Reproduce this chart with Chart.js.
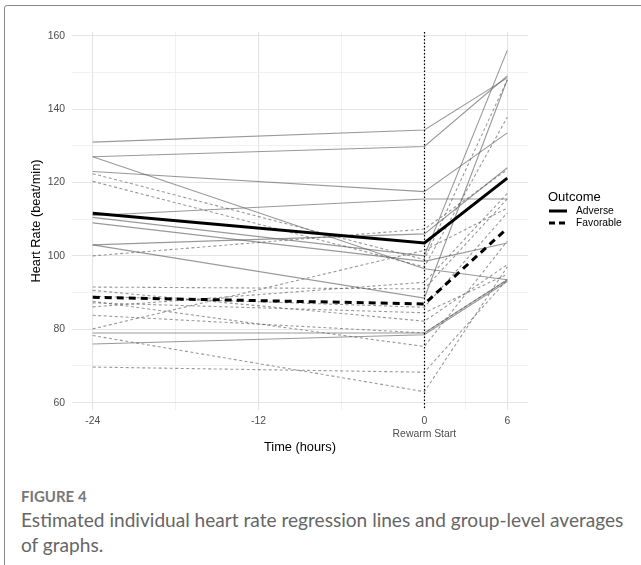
<!DOCTYPE html>
<html>
<head>
<meta charset="utf-8">
<script src="https://cdn.jsdelivr.net/npm/chart.js@4"></script>
<style>
  body { margin: 0; background: #fff; width: 641px; height: 565px; overflow: hidden; position: relative; font-family: "Liberation Sans", Arial, sans-serif; }
  #frame { position: absolute; left: 4px; top: 5px; width: 700px; height: 700px; border: 1px solid #8a8a8a; border-radius: 3px; }
  #wrap { position: absolute; left: 0; top: 0; width: 641px; height: 470px; }
  .leg { position: absolute; white-space: nowrap; line-height: 1; }
  .cap { position: absolute; left: 21px; white-space: nowrap; font-family: Lato, "Open Sans", sans-serif; color: #666; }
</style>
</head>
<body>
<div id="frame"></div>
<div id="wrap"><canvas id="chart"></canvas></div>

<div class="leg" style="left:548px; top:190px; font-size:13px; color:#000;">Outcome</div>
<svg class="leg" style="left:548px; top:205px;" width="22" height="24">
  <line x1="1" y1="6" x2="19" y2="6" stroke="#000" stroke-width="3"/>
  <line x1="1" y1="18" x2="19" y2="18" stroke="#000" stroke-width="3" stroke-dasharray="6 4"/>
</svg>
<div class="leg" style="left:576px; top:206px; font-size:10.3px; color:#000;">Adverse</div>
<div class="leg" style="left:576px; top:218px; font-size:10.3px; color:#000;">Favorable</div>

<div class="cap" style="top:487px; font-size:15px; font-weight:bold; color:#777;">FIGURE 4</div>
<div class="cap" style="top:508px; font-size:19.1px;">Estimated individual heart rate regression lines and group-level averages</div>
<div class="cap" style="top:533px; font-size:19.1px;">of graphs.</div>

<script>
// hours relative to rewarm start
var timePoints = [-24, 0, 6];

// individual regression lines, values at -24h, 0h, +6h
var adverseLines = [
  [131, 134.3, 148.5],
  [127, 129.8, 149],
  [127, 96.5, 93.5],
  [123, 117.5, 133.5],
  [111, 115.5, 115.5],
  [110.5, 100, 156],
  [109, 98.5, 103.5],
  [103, 106, 124],
  [103, 88.5, 148],
  [79, 79, 93.5],
  [76, 78.5, 93]
];
var favorableLines = [
  [122.4, 99, 148],
  [120.3, 97, 137.8],
  [100, 107.3, 123.5],
  [91.5, 91, 115.5],
  [90.6, 82.2, 97.6],
  [89, 86, 111.7],
  [87.2, 84.5, 95],
  [86.1, 92.8, 117],
  [83.8, 79, 93.5],
  [80.1, 101.5, 113],
  [78.3, 63, 97],
  [69.7, 68.3, 93.5],
  [87.6, 75.3, 104]
];

// group level averages
var adverseMean = [111.6, 103.5, 121.2];
var favorableMean = [88.7, 86.9, 107.5];

var xTicks = [-24, -18, -12, -6, 0, 3, 6];
var xMajor = [-24, -12, 0, 6];
var xLabels = { '-24': '-24', '-12': '-12', '0': ['0', 'Rewarm Start'], '6': '6' };
var yTicks = [60, 70, 80, 90, 100, 110, 120, 130, 140, 150, 160];

function toPoints(vals) {
  return timePoints.map(function (t, i) { return { x: t, y: vals[i] }; });
}

var datasets = [];

datasets.push({ label: 'Adverse', data: toPoints(adverseMean), borderColor: '#000', borderWidth: 3, order: 0 });
datasets.push({ label: 'Favorable', data: toPoints(favorableMean), borderColor: '#000', borderWidth: 3, borderDash: [7, 5], order: 0 });

for (var i = 0; i < adverseLines.length; i++) {
  datasets.push({ data: toPoints(adverseLines[i]), borderColor: 'rgba(90,90,90,0.62)', borderWidth: 1.1, order: 1 });
}
for (var j = 0; j < favorableLines.length; j++) {
  datasets.push({ data: toPoints(favorableLines[j]), borderColor: 'rgba(90,90,90,0.62)', borderWidth: 1.1, borderDash: [3, 2.5], order: 1 });
}

// dotted line at rewarm start
var rewarmLine = {
  id: 'rewarmLine',
  afterDatasetsDraw: function (chart) {
    var ctx = chart.ctx;
    var a = chart.chartArea;
    var x = Math.round(chart.scales.x.getPixelForValue(0)) + 0.5;
    ctx.save();
    ctx.strokeStyle = '#000';
    ctx.lineWidth = 1.2;
    ctx.setLineDash([1.5, 2]);
    ctx.beginPath();
    ctx.moveTo(x, a.top);
    ctx.lineTo(x, a.bottom);
    ctx.stroke();
    ctx.restore();
  }
};

Chart.defaults.font.family = '"Liberation Sans", Arial, sans-serif';

new Chart(document.getElementById('chart'), {
  type: 'line',
  data: { datasets: datasets },
  options: {
    responsive: true,
    maintainAspectRatio: false,
    animation: false,
    layout: { padding: { left: 25, top: 32, right: 113, bottom: 11 } },
    elements: { point: { radius: 0 }, line: { tension: 0 } },
    plugins: { legend: { display: false }, tooltip: { enabled: false } },
    scales: {
      x: {
        type: 'linear',
        min: -25.5,
        max: 7.5,
        afterBuildTicks: function (s) { s.ticks = xTicks.map(function (v) { return { value: v }; }); },
        afterFit: function (s) { s.height = 49; },
        border: { display: false },
        grid: {
          drawTicks: false,
          color: function (c) { return xMajor.indexOf(c.tick.value) >= 0 ? '#e4e4e4' : '#eeeeee'; },
          lineWidth: function (c) { return xMajor.indexOf(c.tick.value) >= 0 ? 1.1 : 0.8; }
        },
        ticks: {
          autoSkip: false,
          maxRotation: 0,
          padding: 5,
          color: '#4d4d4d',
          font: { size: 10.4 },
          callback: function (v) { return xLabels[v] !== undefined ? xLabels[v] : ''; }
        },
        title: { display: true, text: 'Time (hours)', color: '#000', font: { size: 12.8 }, padding: { top: 4, bottom: 4 } }
      },
      y: {
        min: 58,
        max: 161,
        afterBuildTicks: function (s) { s.ticks = yTicks.map(function (v) { return { value: v }; }); },
        afterFit: function (s) { s.width = 47; },
        border: { display: false },
        grid: {
          drawTicks: false,
          color: function (c) { return c.tick.value % 20 === 0 ? '#e4e4e4' : '#eeeeee'; },
          lineWidth: function (c) { return c.tick.value % 20 === 0 ? 1.1 : 0.8; }
        },
        ticks: {
          padding: 7,
          color: '#4d4d4d',
          font: { size: 10.4 },
          callback: function (v) { return v % 20 === 0 ? v : ''; }
        },
        title: { display: true, text: 'Heart Rate (beat/min)', color: '#000', font: { size: 12.8 }, padding: { top: 4, bottom: 4 } }
      }
    }
  },
  plugins: [rewarmLine]
});
</script>
</body>
</html>
